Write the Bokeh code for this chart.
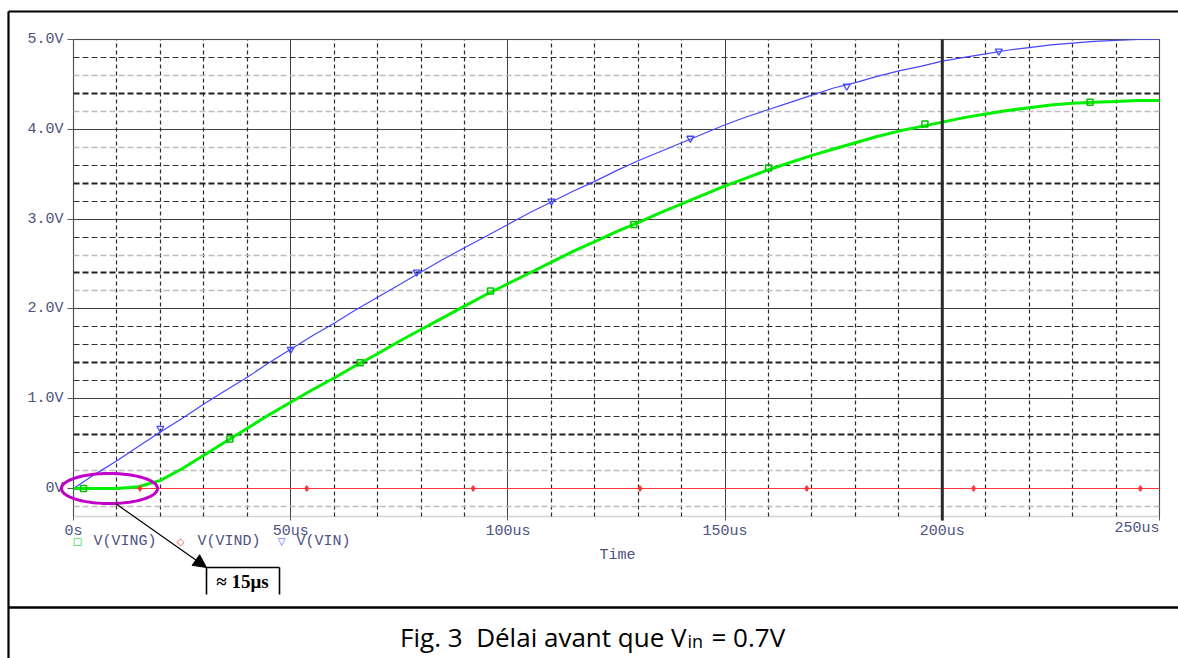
import numpy as np
from bokeh.plotting import figure
from bokeh.models import (FixedTicker, Grid, Label, Arrow, NormalHead, PolyAnnotation,
                          Range1d, ColumnDataSource, LinearAxis, BoxAnnotation)
from bokeh.embed import file_html
from bokeh.resources import INLINE

# ---------------- data ----------------
t_us = [0, 5, 10, 15, 20, 25, 30, 35, 40, 45, 50, 55, 60, 65, 70, 75, 80, 85, 90, 95,
        100, 105, 110, 115, 120, 125, 130, 135, 140, 145, 150, 155, 160, 165, 170, 175,
        180, 185, 190, 195, 200, 205, 210, 215, 220, 225, 230, 235, 240, 245, 250]
v_vin = [0.00, 0.16, 0.31, 0.47, 0.63, 0.78, 0.94, 1.09, 1.24, 1.40, 1.55, 1.70, 1.84,
         1.99, 2.13, 2.27, 2.41, 2.55, 2.68, 2.81, 2.94, 3.07, 3.19, 3.31, 3.42, 3.54,
         3.65, 3.75, 3.85, 3.95, 4.05, 4.14, 4.22, 4.30, 4.38, 4.46, 4.52, 4.59, 4.65,
         4.70, 4.76, 4.80, 4.84, 4.88, 4.91, 4.94, 4.96, 4.98, 4.99, 5.00, 5.00]
v_ving = [0.00, 0.00, 0.00, 0.02, 0.09, 0.22, 0.37, 0.52, 0.67, 0.82, 0.96, 1.10, 1.23,
          1.37, 1.50, 1.64, 1.77, 1.90, 2.03, 2.16, 2.28, 2.40, 2.52, 2.64, 2.75, 2.86,
          2.96, 3.07, 3.17, 3.27, 3.37, 3.46, 3.55, 3.63, 3.71, 3.78, 3.85, 3.92, 3.98,
          4.03, 4.08, 4.13, 4.17, 4.21, 4.24, 4.27, 4.29, 4.30, 4.31, 4.32, 4.32]
v_vind = [0.0] * len(t_us)

mk_vin_t = [20, 50, 79, 110, 142, 178, 213]
mk_vin_v = [0.67, 1.55, 2.41, 3.20, 3.90, 4.48, 4.87]
mk_ving_t = [2.3, 36, 66, 96, 129, 160, 196, 234]
mk_ving_v = [0.00, 0.55, 1.40, 2.20, 2.94, 3.57, 4.06, 4.30]
mk_vind_t = [15.3, 53.7, 92.0, 130.4, 168.8, 207.2, 245.6]
mk_vind_v = [0, 0, 0, 0, 0, 0, 0]

x_ticks = [0, 50, 100, 150, 200, 250]
x_tick_labels = ["0s", "50us", "100us", "150us", "200us", "250us"]
y_ticks = [0, 1, 2, 3, 4, 5]
y_tick_labels = ["0V", "1.0V", "2.0V", "3.0V", "4.0V", "5.0V"]
series_names = ["V(VING)", "V(VIND)", "V(VIN)"]
caption_parts = ["Fig. 3\u00a0 Délai avant que V", "in", "= 0.7V"]
note_text = "≈ 15μs"
axis_title = "Time"

# ---------------- layout / style ----------------
W, H = 1178, 658
X0, X1, T0, T1 = 73, 1159, 0.0, 250.0          # plot area pixels <-> time range
Y0, Y1, V0, V1 = 39, 516, 5.0, -0.312          # plot area pixels <-> voltage range
SX = (X1 - X0) / (T1 - T0)
SY = (Y1 - Y0) / (V0 - V1)
def tx(px):  # canvas pixel -> time
    return T0 + (px - X0) / SX
def vy(py):  # canvas pixel -> volts
    return V0 - (py - Y0) / SY

GREEN = "#00f000"
RED = "#ff3838"
BLUE = "#4646ff"
LABEL_C = "#4d5280"
MONO = "Liberation Mono"
MONO_SIZE = "15px"
x_minor = [v for v in range(10, 250, 10) if v % 50 != 0]
y_dark = [0.4, 0.8, 1.2, 1.6, 1.8, 2.8, 3.2, 3.6, 4.8]
y_thick = [0.6, 1.4, 2.4, 3.4, 4.4]
y_light = [-0.2, 0.2, 2.2, 2.6, 3.8, 4.2, 4.6]

p = figure(width=W, height=H, output_backend="svg", toolbar_location=None,
           x_axis_type=None, y_axis_type=None,
           x_range=Range1d(tx(0), tx(W)), y_range=Range1d(vy(H), vy(0)),
           min_border=0, background_fill_color="white", border_fill_color="white")
p.outline_line_color = None

# ---------- grid ----------
has_cross = "cross_bounds" in Grid.properties()
def add_grid(dim, ticks, color, width, dash, minor=None, mcolor=None, mwidth=1, mdash="solid"):
    cross = (V1, V0) if dim == 0 else (T0, T1)
    if has_cross:
        g = Grid(dimension=dim, ticker=FixedTicker(ticks=ticks, minor_ticks=minor or []),
                 grid_line_color=color, grid_line_width=width, grid_line_dash=dash,
                 cross_bounds=cross)
        if minor:
            g.minor_grid_line_color = mcolor
            g.minor_grid_line_width = mwidth
            g.minor_grid_line_dash = mdash
        p.add_layout(g)
    else:
        for tks, c, w_, d in [(ticks, color, width, dash), (minor or [], mcolor, mwidth, mdash)]:
            if not tks:
                continue
            if dim == 0:
                p.segment(x0=tks, x1=tks, y0=[cross[0]] * len(tks), y1=[cross[1]] * len(tks),
                          line_color=c, line_width=w_, line_dash=d)
            else:
                p.segment(y0=tks, y1=tks, x0=[cross[0]] * len(tks), x1=[cross[1]] * len(tks),
                          line_color=c, line_width=w_, line_dash=d)

add_grid(0, x_ticks, "#404040", 1, "solid", x_minor, "#2a2a2a", 1.2, "4 3")
add_grid(1, y_light, "#bdbdbd", 1.4, "6 3")
add_grid(1, y_ticks, "#404040", 1, "solid", y_dark, "#303030", 1, "6 3")
add_grid(1, y_thick, "#202020", 1.8, "6 3")
p.add_layout(BoxAnnotation(left=T0, right=T1, bottom=V1, top=V0, fill_alpha=0,
                           line_color="#6a6a6a", line_width=1.5))
p.add_layout(Arrow(x_start=200, y_start=V1 - 4 / SY, x_end=200, y_end=V0, end=None,
                   line_color="#2a2a2a", line_width=3))

# ---------- axes (fixed at plot-area edges) ----------
xax = LinearAxis(fixed_location=V1, ticker=FixedTicker(ticks=x_ticks),
                 major_label_overrides={k: (l if k != 250 else "") for k, l in zip(x_ticks, x_tick_labels)})
yax = LinearAxis(fixed_location=T0, ticker=FixedTicker(ticks=y_ticks),
                 major_label_overrides={k: l for k, l in zip(y_ticks, y_tick_labels)})
for ax in (xax, yax):
    ax.axis_line_color = None
    ax.major_tick_line_color = "#555555"
    ax.minor_tick_in = 0
    ax.minor_tick_out = 0
    ax.major_tick_in = 0
    ax.major_label_text_font = MONO
    ax.major_label_text_font_size = MONO_SIZE
    ax.major_label_text_color = LABEL_C
xax.major_tick_out = 4
xax.major_label_standoff = 2
yax.major_tick_out = 6
yax.major_label_standoff = 4
p.add_layout(xax, "below")
p.add_layout(yax, "left")

# ---------- series ----------
src = ColumnDataSource(dict(t=t_us, vin=v_vin, ving=v_ving, vind=v_vind))
p.line("t", "vind", source=src, line_color=RED, line_width=1.2)
p.line("t", "vin", source=src, line_color=BLUE, line_width=1.2)
p.line("t", "ving", source=src, line_color=GREEN, line_width=3)
p.scatter(mk_vind_t, mk_vind_v, marker="diamond", size=6, color=RED)
p.scatter(mk_vin_t, mk_vin_v, marker="inverted_triangle", size=7, line_color=BLUE,
          fill_color=None, line_width=1.3)
p.scatter(mk_ving_t, mk_ving_v, marker="square", size=6, line_color="#00c000",
          fill_color=None, line_width=1.5)

# ---------- texts and annotations ----------
p.add_layout(Label(x=T1, y=vy(528), text=x_tick_labels[-1], text_align="right",
                   text_baseline="middle", text_font=MONO, text_font_size=MONO_SIZE,
                   text_color=LABEL_C))
p.add_layout(Label(x=tx(617), y=vy(555), text=axis_title, text_align="center",
                   text_baseline="middle", text_font=MONO, text_font_size=MONO_SIZE,
                   text_color=LABEL_C))
leg_mk = ["□", "◇", "▽"]
leg_col = ["#00d000", RED, BLUE]
leg_mk_px = [77, 180, 281]
leg_tx_px = [93, 197, 296]
for m, c, mpx, tpx, name in zip(leg_mk, leg_col, leg_mk_px, leg_tx_px, series_names):
    p.add_layout(Label(x=tx(mpx), y=vy(541), text=m, text_align="center", text_baseline="middle",
                       text_font="DejaVu Sans", text_font_size="10px", text_color=c))
    p.add_layout(Label(x=tx(tpx), y=vy(541), text=name, text_align="left", text_baseline="middle",
                       text_font=MONO, text_font_size=MONO_SIZE, text_color=LABEL_C))

# magenta ellipse around the start of the green curve
ang = np.linspace(0, 2 * np.pi, 120)
cx, cy, rx, ry = tx(109), vy(488), 48 / SX, 15 / SY
p.add_layout(PolyAnnotation(xs=list(cx + rx * np.cos(ang)), ys=list(cy + ry * np.sin(ang)),
                            fill_alpha=0, line_alpha=1, line_color="#c000c8", line_width=3))
# arrow to note
p.add_layout(Arrow(x_start=tx(115), y_start=vy(503), x_end=tx(206), y_end=vy(567),
                   line_color="black", line_width=1.2,
                   end=NormalHead(size=13, fill_color="black", line_color="black")))
# note box (top, left, right)
bl, br, bt, bb = tx(206), tx(279), vy(567), vy(594)
for a, b, c_, d in [(bl, bt, br, bt), (bl, bt, bl, bb), (br, bt, br, bb)]:
    p.add_layout(Arrow(x_start=a, y_start=b, x_end=c_, y_end=d, end=None,
                       line_color="black", line_width=1.6))
p.add_layout(Label(x=tx(242), y=vy(581), text=note_text, text_align="center",
                   text_baseline="middle", text_font="Liberation Serif",
                   text_font_style="bold", text_font_size="19px", text_color="black"))
# outer frame and separator
for a, b, c_, d, w in [(tx(8), vy(11), tx(W + 5), vy(11), 2.2),
                       (tx(8), vy(11), tx(8), vy(H + 5), 2.2),
                       (tx(8), vy(607), tx(W + 5), vy(607), 2.6)]:
    p.add_layout(Arrow(x_start=a, y_start=b, x_end=c_, y_end=d, end=None,
                       line_color="black", line_width=w))
# caption (with subscript "in")
p.add_layout(Label(x=tx(686), y=vy(636), text=caption_parts[0], text_align="right",
                   text_baseline="middle", text_font="Open Sans", text_font_size="26px",
                   text_color="black"))
p.add_layout(Label(x=tx(687), y=vy(640), text=caption_parts[1], text_align="left",
                   text_baseline="middle", text_font="Open Sans", text_font_size="18px",
                   text_color="black"))
p.add_layout(Label(x=tx(711), y=vy(636), text=caption_parts[2], text_align="left",
                   text_baseline="middle", text_font="Open Sans", text_font_size="26px",
                   text_color="black"))

open("out.html", "w").write(file_html(p, INLINE))
